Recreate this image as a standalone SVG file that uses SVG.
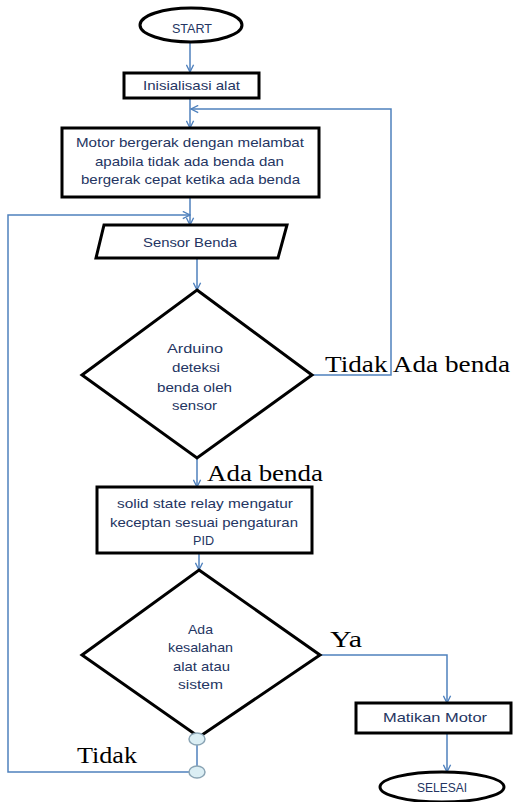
<svg xmlns="http://www.w3.org/2000/svg" width="513" height="802" viewBox="0 0 513 802">
<style>
.shape{fill:#fff;stroke:#000;stroke-width:3}
.conn{fill:none;stroke:#4f81bd;stroke-width:1.5}
.t{font-family:"Liberation Sans",Arial,sans-serif;font-size:13px;fill:#243562;text-anchor:start}
.lbl{font-family:"Liberation Serif","Times New Roman",serif;font-size:24px;fill:#000}
.dot{fill:#dbeef4;stroke:#8aa4b4;stroke-width:1.5}
</style>
<defs>
<marker id="arr" viewBox="0 0 10 10" refX="9" refY="5" markerWidth="9" markerHeight="9" markerUnits="userSpaceOnUse" orient="auto">
<path d="M1,1 L9,5 L1,9" fill="none" stroke="#4f81bd" stroke-width="1.5"/>
</marker>
</defs>
<rect width="513" height="802" fill="#fff"/>
<g id="connectors">
<path class="conn" d="M190,42 V72" marker-end="url(#arr)"/>
<path class="conn" d="M190,98 V128" marker-end="url(#arr)"/>
<path class="conn" d="M312,375 H391 V109 H191" marker-end="url(#arr)"/>
<path class="conn" d="M190,197 V225" marker-end="url(#arr)"/>
<path class="conn" d="M189,772 H8 V215 H190" marker-end="url(#arr)"/>
<path class="conn" d="M197,258 V290" marker-end="url(#arr)"/>
<path class="conn" d="M197,458 V487" marker-end="url(#arr)"/>
<path class="conn" d="M199,553 V570" marker-end="url(#arr)"/>
<path class="conn" d="M320,655 H447 V703" marker-end="url(#arr)"/>
<path class="conn" d="M447,733 V772" marker-end="url(#arr)"/>
<path class="conn" d="M197,745 V766"/>
</g>
<g id="start">
<ellipse class="shape" cx="191" cy="25" rx="51" ry="17"/>
<text class="t" x="172" y="33" textLength="40" lengthAdjust="spacingAndGlyphs">START</text>
</g>
<g id="init">
<rect class="shape" x="124" y="73" width="135" height="25"/>
<text class="t" x="143" y="90" textLength="97" lengthAdjust="spacingAndGlyphs">Inisialisasi alat</text>
</g>
<g id="motor">
<rect class="shape" x="62" y="128" width="257" height="69"/>
<text class="t" x="76" y="147" textLength="228" lengthAdjust="spacingAndGlyphs">Motor bergerak dengan melambat</text>
<text class="t" x="95" y="166" textLength="189" lengthAdjust="spacingAndGlyphs">apabila tidak ada benda dan</text>
<text class="t" x="81" y="184" textLength="219" lengthAdjust="spacingAndGlyphs">bergerak  cepat ketika ada benda</text>
</g>
<g id="sensor">
<polygon class="shape" points="104,225 287,225 278,258 96,258"/>
<text class="t" x="143" y="247" textLength="94" lengthAdjust="spacingAndGlyphs">Sensor Benda</text>
</g>
<g id="decision1">
<polygon class="shape" points="197,290 312,375 197,458 82,375"/>
<text class="t" x="167" y="353" textLength="56" lengthAdjust="spacingAndGlyphs">Arduino</text>
<text class="t" x="172" y="372" textLength="48" lengthAdjust="spacingAndGlyphs">deteksi</text>
<text class="t" x="157" y="392" textLength="75" lengthAdjust="spacingAndGlyphs">benda oleh</text>
<text class="t" x="172" y="410" textLength="45" lengthAdjust="spacingAndGlyphs">sensor</text>
</g>
<g id="relay">
<rect class="shape" x="97" y="487" width="215" height="66"/>
<text class="t" x="117" y="508" textLength="176" lengthAdjust="spacingAndGlyphs">solid state relay mengatur</text>
<text class="t" x="110" y="527" textLength="188" lengthAdjust="spacingAndGlyphs">keceptan sesuai pengaturan</text>
<text class="t" x="193" y="545" textLength="21" lengthAdjust="spacingAndGlyphs">PID</text>
</g>
<g id="decision2">
<polygon class="shape" points="199,570 320,655 199,737 82,655"/>
<text class="t" x="188" y="634" textLength="25" lengthAdjust="spacingAndGlyphs">Ada</text>
<text class="t" x="168" y="652" textLength="65" lengthAdjust="spacingAndGlyphs">kesalahan</text>
<text class="t" x="173" y="671" textLength="57" lengthAdjust="spacingAndGlyphs">alat atau</text>
<text class="t" x="178" y="689" textLength="45" lengthAdjust="spacingAndGlyphs">sistem</text>
</g>
<g id="matikan">
<rect class="shape" x="356" y="703" width="155" height="30"/>
<text class="t" x="383" y="722" textLength="104" lengthAdjust="spacingAndGlyphs">Matikan Motor</text>
</g>
<g id="selesai">
<ellipse class="shape" cx="442" cy="787" rx="62" ry="15"/>
<text class="t" x="417" y="792" textLength="50" lengthAdjust="spacingAndGlyphs">SELESAI</text>
</g>
<g id="junctions">
<ellipse class="dot" cx="197" cy="739" rx="8" ry="6"/>
<ellipse class="dot" cx="197" cy="772" rx="8" ry="6"/>
</g>
<g id="labels">
<text class="lbl" x="325" y="372" textLength="185" lengthAdjust="spacingAndGlyphs">Tidak Ada benda</text>
<text class="lbl" x="207" y="481" textLength="116" lengthAdjust="spacingAndGlyphs">Ada benda</text>
<text class="lbl" x="330" y="647" textLength="32" lengthAdjust="spacingAndGlyphs">Ya</text>
<text class="lbl" x="77" y="763" textLength="60" lengthAdjust="spacingAndGlyphs">Tidak</text>
</g>
</svg>
